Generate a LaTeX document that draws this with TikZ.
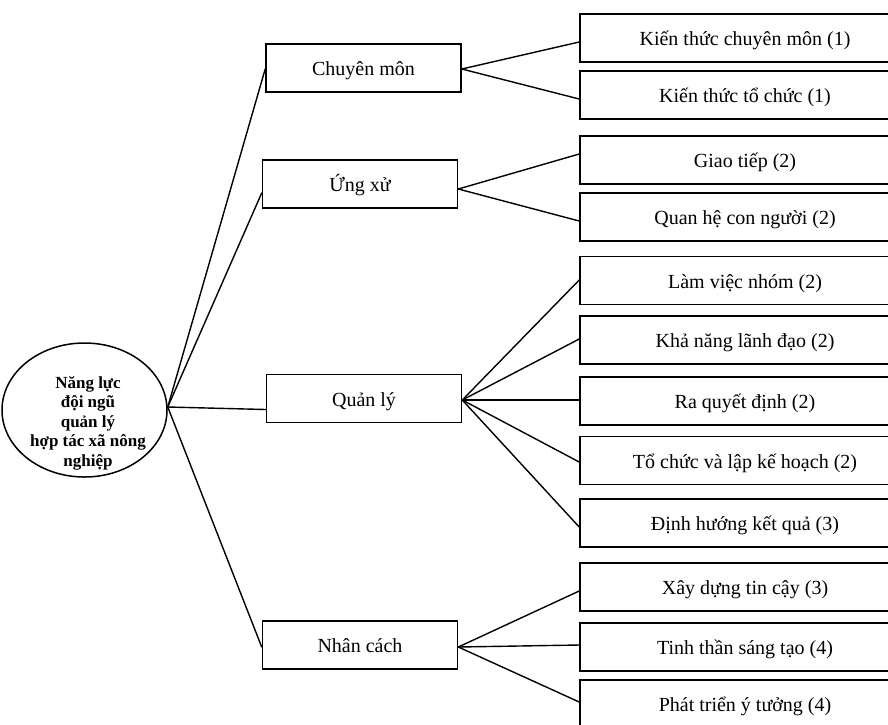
\documentclass[tikz,border=0pt]{standalone}
\usepackage{fontspec}
\setmainfont{Liberation Serif}
\usetikzlibrary{shapes.geometric}
\tikzset{
  lnk/.style={line width=1.4pt, line cap=round},
  midbox/.style={draw, line width=1.6pt, rectangle, inner sep=0pt, minimum width=195pt, minimum height=48pt, text height=19pt, text depth=4pt, font=\fontsize{20}{24}\selectfont},
  leafbox/.style={draw, line width=1.6pt, rectangle, inner sep=0pt, minimum width=330pt, minimum height=48pt, text height=19pt, text depth=4pt, font=\fontsize{20}{24}\selectfont},
}
\begin{document}
\begin{tikzpicture}[x=1pt,y=-1pt]
\clip (0,0) rectangle (888,724);
\fill[white] (0,0) rectangle (888,724);
% root
\node[draw, ellipse, line width=1.5pt, minimum width=165pt, minimum height=134pt, inner sep=0pt] (e) at (84.5,410) {};
\node[align=center, font=\fontsize{17}{19.5}\selectfont\bfseries] (et) at (88,423) {Năng lực\\đội ngũ\\quản lý\\hợp tác xã nông\\nghiệp};
% middle
\node[midbox] (m1) at (363.5,68) {Chuyên môn};
\node[midbox] (m2) at (360,184) {Ứng xử};
\node[midbox] (m3) at (364,398.5) {Quản lý};
\node[midbox] (m4) at (360,645) {Nhân cách};
% leaves
\node[leafbox] (b1) at (745,38) {Kiến thức chuyên môn (1)};
\node[leafbox] (b2) at (745,95) {Kiến thức tổ chức (1)};
\node[leafbox] (b3) at (745,160) {Giao tiếp (2)};
\node[leafbox] (b4) at (745,217) {Quan hệ con người (2)};
\node[leafbox] (b5) at (745,280.5) {Làm việc nhóm (2)};
\node[leafbox] (b6) at (745,340) {Khả năng lãnh đạo (2)};
\node[leafbox] (b7) at (745,401) {Ra quyết định (2)};
\node[leafbox] (b8) at (745,460.5) {Tổ chức và lập kế hoạch (2)};
\node[leafbox] (b9) at (745,523) {Định hướng kết quả (3)};
\node[leafbox] (b10) at (745,587) {Xây dựng tin cậy (3)};
\node[leafbox] (b11) at (745,647) {Tinh thần sáng tạo (4)};
\node[leafbox] (b12) at (745,704) {Phát triển ý tưởng (4)};
% root links
\coordinate (r) at ([yshift=3pt]e.east);
\draw[lnk] (r) -- ([yshift=-1pt]m1.west);
\draw[lnk] (r) -- ([yshift=-9pt]m2.west);
\draw[lnk] (r) -- ([yshift=-11pt]m3.west);
\draw[lnk] (r) -- ([yshift=-2pt]m4.west);
% Chuyen mon
\draw[lnk] ([yshift=-1pt]m1.east) -- ([yshift=-4pt]b1.west);
\draw[lnk] ([yshift=-1pt]m1.east) -- ([yshift=-4pt]b2.west);
% Ung xu
\draw[lnk] ([yshift=-5pt]m2.east) -- ([yshift=6pt]b3.west);
\draw[lnk] ([yshift=-5pt]m2.east) -- ([yshift=-4pt]b4.west);
% Quan ly
\coordinate (q) at ([yshift=-1.5pt]m3.east);
\draw[lnk] (q) -- ([yshift=0.5pt]b5.west);
\draw[lnk] (q) -- ([yshift=1pt]b6.west);
\draw[lnk] (q) -- ([yshift=1pt]b7.west);
\draw[lnk] (q) -- ([yshift=-1.5pt]b8.west);
\draw[lnk] (q) -- ([yshift=-4pt]b9.west);
% Nhan cach
\coordinate (n) at ([yshift=-2pt]m4.east);
\draw[lnk] (n) -- ([yshift=-4pt]b10.west);
\draw[lnk] (n) -- ([yshift=2pt]b11.west);
\draw[lnk] (n) -- ([yshift=2pt]b12.west);
\end{tikzpicture}
\end{document}
